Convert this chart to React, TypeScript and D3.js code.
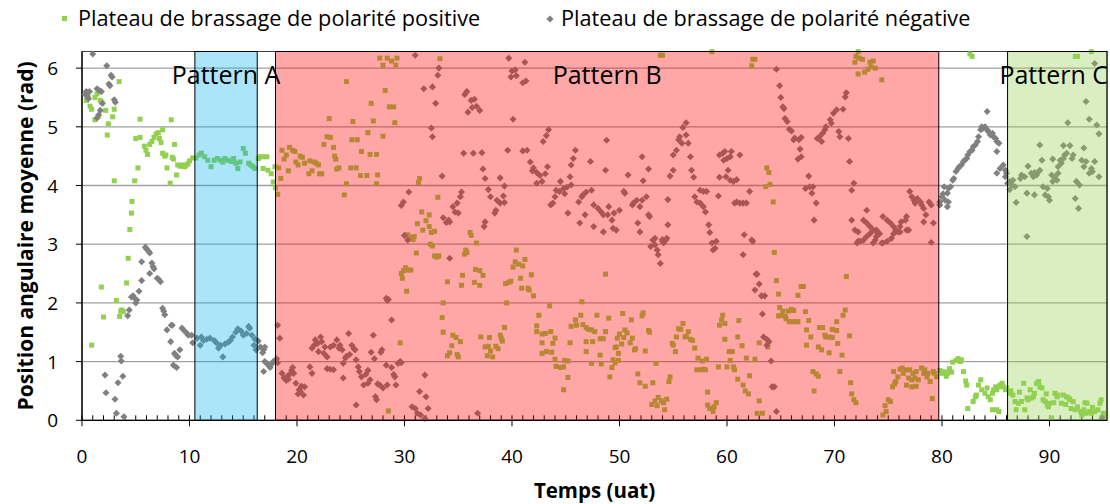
import React from 'react';
import * as d3 from 'd3';

// [temps, position angulaire]
const positivePoints: [number, number][] = [
  [0.4,5.45],[0.55,5.5],[0.75,5.35],[0.9,5.3],[0.9,1.28],[1.2,5.5],[1.2,5.12],[1.4,5.56],[1.5,5.18],[1.7,5.45],[1.8,2.27],[1.85,5.42],[2.0,1.76],[2.2,5.28],[2.35,4.86],[2.45,5.05],[2.85,5.17],[3.0,5.3],[3.0,4.08],[3.2,2.04],[3.45,5.77],[3.5,1.77],[3.6,1.86],[3.7,1.88],[3.85,1.85],[4.15,2.34],[4.3,2.76],[4.45,3.25],[4.6,3.53],[4.65,3.73],[4.9,4.08],[5.0,4.8],[5.2,4.3],[5.4,4.82],[5.4,5.13],[5.8,4.67],[5.95,4.6],[6.1,4.53],[6.3,4.7],[6.5,4.75],[6.7,4.82],[6.9,4.88],[7.1,4.9],[7.2,4.8],[7.35,4.73],[7.5,4.95],[7.5,4.55],[7.7,4.5],[7.8,4.52],[7.9,4.3],[8.2,4.04],[8.3,5.12],[8.4,4.48],[8.5,4.45],[8.6,4.7],[8.8,4.18],[8.9,4.35],[9.1,4.33],[9.25,4.35],[9.4,4.33],[9.55,4.32],[9.7,4.35],[9.85,4.37],[10.0,4.42],[10.3,4.47],[10.6,4.47],
  [10.9,4.52],[11.1,4.55],[11.4,4.49],[11.7,4.43],[12.0,4.32],[12.3,4.43],[12.6,4.46],[12.9,4.43],[13.1,4.4],[13.3,4.46],[13.6,4.43],[13.9,4.41],[14.1,4.46],[14.3,4.38],[14.5,4.29],[14.7,4.4],[15.0,4.63],[15.2,4.55],[15.5,4.38],[15.7,4.35],[15.9,4.32],[16.1,4.29],[16.4,4.46],[16.55,4.49],[16.85,4.49],[17.2,4.49],[16.85,4.29],[17.3,4.26],[17.6,4.2],[17.8,4.06],[17.95,4.32],
  [18.0,3.96],[18.2,3.85],[18.3,4.3],[18.5,4.12],[18.6,4.6],[18.8,4.45],[19.0,4.52],[19.2,4.25],[19.3,4.65],[19.6,4.6],[19.8,4.58],[19.9,4.4],[20.1,4.35],[20.3,4.5],[20.5,4.48],[20.7,4.38],[21.1,4.2],[21.2,4.42],[21.4,4.25],[21.6,4.4],[21.8,4.38],[22.0,4.35],[22.1,4.2],[22.3,4.2],[22.5,4.7],[22.8,4.83],[23.0,5.14],[23.1,4.82],[23.4,4.65],[23.5,4.5],[23.6,4.45],[23.7,4.28],[23.9,4.3],[24.4,3.84],[24.6,5.77],[24.6,4.03],[25.0,4.3],[25.1,4.78],[25.2,5.09],[25.5,4.3],[25.6,4.78],[25.9,4.17],[26.0,4.58],[26.5,4.17],[26.6,4.9],[26.8,4.53],[26.9,5.4],[27.1,5.1],[27.4,4.53],[27.4,4.03],[27.5,4.18],[27.7,6.17],[28.0,4.84],[28.0,6.05],[28.2,5.62],[28.4,6.17],[28.5,0.16],[28.6,5.34],[28.8,6.12],[29.0,5.34],[29.1,5.07],[29.2,6.05],[29.3,6.17],[29.6,1.32],[29.7,2.5],[29.8,2.42],[29.9,2.55],[30.1,2.6],[30.2,2.2],[30.3,2.56],[30.3,3.16],[30.6,3.12],[30.6,2.56],[30.8,3.08],[30.9,3.13],[31.1,2.85],[31.2,3.35],[31.3,4.05],[31.4,4.12],[31.6,3.55],[31.7,3.24],[32.0,3.4],[32.3,3.5],[32.3,3.3],[32.4,3.0],[32.5,3.2],[32.6,2.97],[32.8,3.22],[32.8,2.8],[33.0,2.78],[33.1,3.8],[33.2,2.8],[33.3,6.16],[33.5,1.75],[33.6,2.0],[33.6,1.5],[34.0,2.36],[34.0,1.1],[34.2,1.15],[34.4,1.27],[34.5,1.45],[34.8,1.41],[34.9,1.12],[35.0,1.08],[35.2,1.34],[35.3,2.3],[35.4,2.47],[35.6,2.83],[35.7,2.9],[35.8,2.86],[36.1,3.2],[36.2,3.15],[36.5,2.35],[36.6,2.57],[36.7,3.02],[37.0,2.55],[37.0,2.3],[37.1,1.42],[37.3,2.47],[37.5,1.25],[37.7,1.1],[37.8,1.26],[37.9,1.41],[38.0,1.18],[38.2,1.08],[38.5,1.26],[38.7,1.22],[38.9,1.45],[39.0,1.4],[39.1,1.35],[39.3,1.58],[39.4,2.33],[39.5,2.0],[39.7,2.35],[39.9,2.37],[40.1,2.61],[40.3,2.7],[40.4,2.9],[40.6,2.66],[40.8,2.42],[40.9,2.25],[41.0,2.63],[41.2,2.74],[41.5,2.25],[41.6,2.22],[41.8,2.48],[42.0,2.12],
  [42.3,1.61],[42.3,1.51],[42.5,1.79],[42.8,1.47],[42.8,1.32],[42.8,1.14],[43.1,1.48],[43.2,1.17],[43.5,1.95],[43.6,1.51],[43.7,1.16],[43.8,1.31],[44.0,1.4],[44.0,1.04],[44.1,0.92],[44.5,0.9],[44.8,0.91],[44.8,0.52],[44.9,1.02],[45.2,1.01],[45.2,0.73],[45.4,1.32],[45.5,1.6],[45.9,1.71],[46.0,1.62],[46.4,1.79],[46.5,2.02],[46.6,1.63],[46.9,1.58],[46.9,1.34],[46.9,1.17],[47.1,1.55],[47.4,1.54],[47.4,0.97],[47.5,1.34],[47.7,1.51],[47.9,1.79],[48.2,1.39],[48.2,1.11],[48.3,0.96],[48.5,1.39],[48.7,1.51],[48.7,2.49],[49.0,1.74],[49.1,0.74],[49.3,0.9],[49.4,1.03],[49.6,1.24],[49.6,0.98],[49.7,1.25],[49.8,1.4],[49.9,1.14],[49.9,1.02],[50.0,1.47],[50.2,1.3],[50.3,1.82],[50.4,1.41],[50.5,1.54],[50.7,1.49],[51.0,1.32],[51.1,1.71],[51.2,1.4],[51.4,1.2],[51.5,1.22],[51.7,0.79],[51.9,0.64],[52.1,1.78],[52.2,1.83],[52.4,1.18],[52.4,0.58],[52.7,1.53],[52.8,1.5],[53.0,0.27],[53.1,0.64],[53.3,0.33],[53.4,0.97],[53.5,0.25],[53.6,0.39],[53.8,6.22],[53.9,0.33],[54.0,6.22],[54.1,0.3],[54.2,0.18],[54.4,0.36],[54.6,0.66],[54.7,0.74],[54.9,1.31],[55.0,1.28],[55.2,1.17],[55.3,1.42],[55.5,1.56],[55.7,1.55],[55.9,1.65],[56.1,1.42],[56.2,1.43],[56.4,1.51],[56.6,1.38],[56.8,1.36],[57.0,1.23],[57.2,0.86],[57.3,1.06],[57.5,0.86],[57.7,1.01],[57.8,0.87],[58.0,0.86],[58.1,1.04],[58.2,0.48],[58.2,0.26],[58.4,0.2],[58.6,6.28],[58.7,0.15],[58.8,0.23],[59.0,0.3],[59.2,0.91],[59.3,1.62],[59.5,1.71],[59.6,1.79],[59.8,1.65],[59.8,1.38],[60.0,0.91],[60.2,1.17],[60.3,1.02],[60.5,1.17],[60.6,0.91],[60.7,0.86],[61.0,0.7],[61.0,1.42],[61.1,1.7],[61.4,1.27],[61.5,0.6],[61.7,0.5],[61.8,1.06],[62.0,0.45],[62.1,0.76],[62.3,6.04],[62.4,6.15],[62.6,6.15],[62.6,1.04],[62.8,0.12],[63.0,0.33],[63.0,1.32],[63.3,0.12],[63.6,3.98],[63.7,4.3],[63.8,1.25],[63.9,4.22],[64.0,4.02],[64.3,3.72],[64.4,2.86],[64.6,2.38],[64.8,2.15],[64.8,1.78],[64.9,1.92],[65.1,1.79],[65.2,1.86],[65.4,1.77],[65.5,1.73],[65.7,1.86],[65.8,1.68],[66.0,1.89],[66.1,1.68],[66.2,1.87],[66.4,1.68],[66.6,1.68],[66.6,2.13],[66.9,2.28],[67.1,2.28],[67.3,1.85],[67.4,1.54],[67.4,1.28],[67.6,1.7],[67.8,1.42],[68.0,0.83],[68.1,0.5],[68.3,0.79],[68.5,0.75],[68.5,1.25],[68.6,1.58],[68.8,1.2],[68.9,1.58],[69.1,1.45],[69.2,1.42],[69.5,1.42],[69.5,1.15],[69.8,1.41],[69.8,1.55],[70.2,1.53],[70.2,1.68],[70.3,1.31],[70.5,0.83],[70.7,1.11],[70.8,1.79],[71.0,1.88],[71.1,2.45],[71.4,1.44],[71.5,0.64],[71.6,0.45],[71.8,0.35],[71.9,6.1],[72.0,0.3],[72.0,6.2],[72.2,6.28],[72.2,5.9],[72.3,6.17],[72.6,6.15],[72.8,5.93],[73.1,5.98],[73.3,6.1],[73.4,6.02],[73.6,6.12],[73.8,6.0],[74.4,5.8],[74.5,0.09],[74.7,0.25],[74.8,0.15],[75.0,0.35],[75.2,0.32],[75.4,0.57],[75.5,0.83],[75.6,0.62],[75.7,0.66],[75.9,0.74],[76.1,0.87],[76.3,0.89],[76.4,0.8],[76.7,0.86],[76.7,0.6],[76.9,0.72],[77.0,0.86],[77.2,0.69],[77.2,0.57],[77.3,0.8],[77.5,0.72],[77.6,0.58],[77.6,0.83],[77.8,0.69],[78.1,0.89],[78.3,0.8],[78.4,0.86],[78.6,0.74],[78.7,0.8],[78.9,0.66],[79.1,0.37],[79.2,0.83],[79.3,0.8],[79.5,0.74],
  [79.8,0.85],[80.0,0.8],[80.2,0.83],[80.4,0.75],[80.5,0.8],[80.7,0.88],[80.9,0.82],[81.0,0.99],[81.3,1.02],[81.5,1.05],[81.7,1.0],[81.8,1.03],[82.0,0.83],[82.2,0.67],[82.3,0.6],[82.4,0.2],[82.6,6.24],[82.8,6.2],[82.9,0.32],[83.1,0.4],[83.2,0.43],[83.4,0.6],[83.6,0.69],[83.7,0.52],[84.0,0.46],[84.2,0.55],[84.3,0.4],[84.5,0.35],[84.7,0.46],[84.7,0.18],[84.8,0.52],[85.0,0.57],[85.1,0.52],[85.1,0.18],[85.3,0.57],[85.3,0.15],[85.4,0.6],[85.6,0.63],[85.7,0.57],[85.9,0.52],
  [86.0,0.55],[86.3,0.46],[86.4,0.5],[86.6,0.43],[86.8,0.32],[86.9,0.18],[87.1,0.29],[87.2,0.48],[87.4,0.32],[87.6,0.63],[87.7,0.18],[87.9,0.38],[88.0,0.35],[88.2,0.52],[88.3,0.38],[88.5,0.4],[88.6,0.46],[88.8,0.63],[89.0,0.66],[89.1,0.57],[89.3,0.55],[89.4,0.35],[89.6,0.32],[89.7,0.45],[89.8,0.26],[89.9,0.23],[90.0,0.29],[90.2,0.04],[90.4,0.3],[90.5,0.46],[90.7,0.4],[90.8,0.43],[91.1,0.29],[91.3,0.43],[91.5,0.27],[91.6,0.4],[91.8,0.38],[91.9,0.35],[92.0,0.2],[92.2,0.32],[92.4,0.18],[92.4,6.2],[92.6,0.23],[92.6,6.2],[92.9,0.15],[93.0,0.09],[93.2,0.18],[93.3,0.3],[93.4,0.12],[93.5,0.29],[93.7,0.15],[93.9,0.12],[93.9,6.28],[94.0,0.22],[94.2,0.15],[94.5,0.18],[94.7,0.29],[94.8,0.35],[94.9,0.05],[95.0,0.12],[95.1,0.09],
];

const negativePoints: [number, number][] = [
  [0.3,5.55],[0.4,5.6],[0.5,5.52],[0.6,5.48],[0.7,5.6],[1.0,6.24],[1.4,5.65],[1.4,5.15],[1.55,5.2],[1.6,5.62],[1.7,5.28],[1.8,5.6],[1.9,5.4],[2.14,0.77],[2.23,0.47],[2.3,6.04],[2.5,5.73],[2.6,5.7],[2.7,5.88],[2.8,5.85],[3.0,5.46],[3.07,0.36],[3.1,5.42],[3.2,0.12],[3.35,0.64],[3.6,1.09],[3.65,1.01],[3.8,0.75],[3.9,0.06],[4.25,1.78],[4.4,1.88],[4.6,2.1],[4.75,2.12],[4.9,2.08],[5.0,2.0],[5.1,2.05],[5.3,2.2],[5.55,2.38],[5.55,2.7],[5.9,2.95],[6.0,2.92],[6.2,2.88],[6.3,2.85],[6.3,2.5],[6.5,2.68],[6.6,2.62],[6.7,2.58],[7.0,2.42],[7.15,2.4],[7.3,2.36],[7.5,1.91],[7.6,1.86],[7.7,1.8],[7.9,1.54],[8.25,1.34],[8.3,1.62],[8.4,1.62],[8.5,0.94],[8.6,1.14],[8.75,1.1],[8.8,0.9],[8.9,1.08],[9.1,1.2],[9.3,1.57],[9.5,1.53],[9.7,1.49],[9.9,1.45],[10.2,1.45],[10.3,1.32],
  [10.7,1.4],[11.0,1.28],[11.1,1.42],[11.3,1.36],[11.6,1.38],[11.9,1.4],[12.3,1.36],[12.5,1.32],[12.7,1.23],[12.9,1.28],[13.1,1.08],[13.3,1.3],[13.6,1.33],[13.8,1.36],[14.0,1.42],[14.3,1.5],[14.5,1.56],[14.8,1.52],[15.0,1.45],[15.3,1.48],[15.5,1.6],[15.6,1.57],[15.8,1.45],[16.0,1.28],[16.1,1.38],[16.2,1.2],
  [16.4,1.35],[16.6,1.25],[16.8,1.15],[16.9,1.2],[16.9,0.83],[17.0,1.25],[17.0,1.0],[17.2,0.97],[17.4,0.93],[17.5,0.9],[17.6,0.95],[17.8,1.0],
  [18.1,1.05],[18.2,1.62],[18.2,0.98],[18.4,1.4],[18.6,0.8],[18.8,0.72],[19.0,0.68],[19.1,0.75],[19.2,0.7],[19.3,0.78],[19.5,0.85],[19.6,0.9],[19.7,0.8],[19.9,0.63],[20.1,0.45],[20.2,0.52],[20.3,0.49],[20.4,0.58],[20.6,0.43],[20.7,0.57],[21.2,0.91],[21.4,0.8],[21.4,1.23],[21.6,1.28],[21.7,1.37],[21.9,1.31],[22.0,1.17],[22.2,1.42],[22.3,1.34],[22.5,1.14],[22.6,1.25],[22.8,1.08],[22.8,0.88],[23.1,0.87],[23.1,1.25],[23.4,0.86],[23.4,1.28],[23.7,1.37],[23.9,1.23],[24.0,1.28],[24.2,1.2],[24.3,0.97],[24.3,0.72],[24.5,1.06],[24.6,1.09],[24.8,1.48],[24.9,1.12],[25.1,1.28],[25.3,1.22],[25.4,1.2],[25.5,1.03],[25.5,0.26],[25.7,0.91],[25.8,0.83],[26.0,0.74],[26.2,0.6],[26.4,0.78],[26.6,0.85],[26.6,0.63],[26.8,0.69],[26.9,1.16],[27.1,1.45],[27.2,1.05],[27.3,0.4],[27.4,0.35],[27.5,0.62],[27.7,0.6],[27.8,1.16],[27.9,1.2],[28.0,0.55],[28.3,0.94],[28.3,2.08],[28.4,0.6],[28.4,2.04],[28.5,2.06],[28.8,1.71],[28.8,0.9],[29.0,0.78],[29.1,0.74],[29.2,0.6],[29.4,0.97],[29.6,1.0],[29.7,0.98],[29.7,3.66],[29.9,3.72],[30.0,3.15],[30.3,3.07],[30.4,3.89],[30.7,0.23],[31.0,6.22],[31.0,0.2],[31.2,0.12],[31.4,0.49],[31.5,0.09],[31.8,5.65],[31.9,0.77],[31.9,0.03],[32.0,0.4],[32.2,0.2],[32.5,4.98],[32.6,5.68],[32.6,4.83],[32.9,5.4],[33.1,5.88],[33.2,6.0],[33.5,4.16],[33.6,3.45],[33.9,3.37],[34.1,3.41],[34.2,3.38],[34.2,2.76],[34.5,3.64],[34.7,3.55],[34.9,3.7],[35.0,3.53],[35.2,3.81],[35.3,3.89],[35.5,4.55],[35.6,5.55],[35.8,5.6],[35.9,5.25],[36.2,5.45],[36.3,5.33],[36.4,4.55],[36.5,5.47],[36.7,5.35],[36.8,0.12],[37.0,5.28],[37.2,4.56],[37.3,4.28],[37.4,3.3],[37.5,4.12],[37.5,3.38],[37.8,3.93],[38.0,3.81],[38.4,3.53],[38.5,3.58],[38.6,3.75],[38.9,3.7],[38.9,4.13],[39.2,3.82],[39.3,3.71],[39.3,3.99],[39.6,4.6],[39.7,6.17],[39.9,5.85],[40.0,5.95],[40.1,5.13],[40.3,5.97],[40.4,5.87],[41.0,5.75],[41.0,4.59],[41.2,6.1],[41.3,5.78],[41.4,4.6],[41.7,4.4],[41.9,4.25],[42.0,4.3],[42.3,4.22],[42.3,4.04],[42.6,4.17],[42.8,4.07],[42.9,4.75],[43.1,4.2],[43.2,4.85],[43.3,4.32],[43.4,4.95],[43.6,3.67],[43.8,3.7],[44.0,3.81],[44.1,3.92],[44.4,3.9],[44.5,4.07],[44.8,3.95],[44.9,3.86],[45.1,3.97],[45.2,3.53],[45.4,4.15],[45.5,4.01],[45.5,4.35],[45.7,4.46],[45.9,4.6],[46.2,3.72],[46.3,3.36],[46.5,3.81],[46.6,3.84],[46.8,3.5],[46.9,3.89],[47.3,4.41],[47.4,3.92],[47.6,3.67],[47.6,3.3],[48.0,3.61],[48.3,3.55],[48.5,3.5],[48.5,3.21],[48.7,4.26],[48.8,4.77],[48.9,3.5],[49.0,3.64],[49.3,3.41],[49.4,3.27],[49.5,3.53],[49.7,3.24],[50.0,3.58],[50.4,3.9],[50.5,3.87],[50.8,4.18],[51.2,3.67],[51.3,3.7],[51.6,3.75],[51.7,3.36],[51.9,3.21],[51.9,3.64],
  [52.1,3.75],[52.1,4.49],[52.2,4.08],[52.5,3.81],[52.7,3.5],[52.7,4.28],[52.8,3.47],[52.9,2.96],[53.1,3.07],[53.3,2.99],[53.3,3.1],[53.5,2.9],[53.6,2.82],[53.8,2.67],[54.0,3.05],[54.0,3.08],[54.1,3.02],[54.3,3.07],[54.4,3.1],[54.5,3.76],[54.5,3.33],[54.7,4.16],[55.0,4.26],[55.0,4.52],[55.3,4.6],[55.5,4.78],[55.6,4.83],[55.8,4.72],[55.9,4.99],[56.2,5.07],[56.2,4.86],[56.4,4.72],[56.6,4.49],[56.7,4.26],[56.9,4.14],[57.0,3.81],[57.2,3.72],[57.5,3.92],[57.5,3.7],[57.8,3.9],[57.8,3.64],[58.0,3.55],[58.1,3.9],[58.3,3.33],[58.4,3.2],[58.6,3.02],[58.7,2.9],[58.9,2.93],[59.0,3.05],[59.2,3.82],[59.3,4.52],[59.3,4.14],[59.6,4.55],[59.7,4.43],[59.8,4.58],[59.9,4.15],[60.0,4.46],[60.1,4.26],[60.3,4.49],[60.3,4.09],[60.4,4.58],[60.6,4.07],[60.7,3.7],[60.9,4.1],[60.9,3.72],[61.2,4.52],[61.2,3.7],[61.5,3.7],[61.5,2.82],[61.6,3.16],[61.8,3.7],[62.1,3.9],[62.3,3.07],[62.4,3.05],[62.6,2.22],[62.7,2.49],[62.8,2.49],[63.0,2.32],[63.2,2.12],[63.3,1.81],[63.4,1.42],[63.5,2.12],[63.7,1.38],[63.7,1.28],[63.9,1.34],[64.1,1.01],[64.2,0.57],[64.4,0.57],[64.6,0.15],[64.6,5.98],[64.9,5.7],[65.0,5.5],[65.2,5.34],[65.3,5.31],[65.4,5.14],[65.6,5.09],[65.8,4.96],[66.0,4.93],[66.2,4.78],[66.3,4.81],[66.6,4.45],[66.7,4.78],[66.8,4.62],[66.9,4.82],[66.9,4.49],[67.3,3.95],[67.6,4.16],[67.7,3.98],[67.9,3.87],[68.0,3.98],[68.1,3.41],[68.3,3.7],[68.4,4.8],[68.6,4.83],[68.8,4.75],[68.9,4.89],[69.1,4.95],[69.2,5.0],[69.6,5.12],[69.7,5.06],[69.9,5.23],[70.2,5.29],[70.4,4.92],[70.5,4.83],[70.8,5.3],[71.0,5.51],[71.1,5.58],[71.3,4.8],[71.4,4.41],[71.6,3.92],[71.6,3.41],[71.8,4.04],[71.9,3.24],[72.1,3.02],[72.2,3.21],[72.2,3.05],[72.4,3.05],[72.7,3.41],[72.7,3.07],[73.0,3.58],[73.0,3.36],[73.0,3.13],[73.3,3.3],[73.3,3.18],[73.6,3.24],[73.6,3.02],[73.8,3.07],[73.9,3.24],[73.9,3.13],[74.0,3.19],[74.2,3.18],[74.4,3.02],[74.5,3.47],[74.5,3.02],[74.9,3.41],[74.9,3.05],[75.2,3.36],[75.3,3.1],[75.5,3.3],[75.5,3.18],[75.7,3.24],[75.9,3.21],[76.1,3.3],[76.1,3.21],[76.2,3.38],[76.6,3.41],[76.7,3.47],[76.7,3.24],[76.9,3.24],[77.0,3.9],[77.2,3.81],[77.4,3.75],[77.5,3.7],[77.7,3.78],[78.0,3.72],[78.1,3.67],[78.3,3.61],[78.3,3.38],[78.5,3.5],[78.8,3.72],[79.0,3.67],[79.0,3.03],[79.2,3.36],
  [79.8,3.72],[79.8,3.67],[80.0,3.81],[80.1,3.86],[80.2,3.98],[80.3,3.75],[80.5,3.87],[80.5,3.64],[80.6,3.95],[80.6,3.72],[80.8,3.98],[81.0,4.09],[81.1,4.12],[81.3,4.24],[81.5,4.29],[81.6,4.32],[81.8,4.35],[82.0,4.41],[82.1,4.43],[82.3,4.46],[82.4,4.52],[82.6,4.58],[82.8,4.6],[82.9,4.66],[83.1,4.69],[83.3,4.75],[83.4,4.83],[83.6,4.95],[83.7,5.0],[83.8,4.97],[84.0,5.0],[84.2,4.95],[84.2,5.26],[84.3,4.92],[84.5,4.86],[84.7,4.89],[84.8,4.83],[85.0,4.8],[85.1,4.75],[85.1,4.58],[85.1,4.21],[85.3,4.72],[85.4,4.29],[85.7,4.35],[85.9,4.26],[85.9,4.15],[86.0,4.21],
  [86.1,4.04],[86.3,4.07],[86.3,3.93],[86.5,4.01],[86.6,4.09],[86.8,3.98],[86.9,3.71],[87.3,4.12],[87.4,4.18],[87.7,4.15],[87.9,3.87],[87.9,3.13],[88.0,4.33],[88.3,4.21],[88.5,4.15],[88.6,4.22],[88.6,3.84],[88.8,4.18],[89.0,4.24],[89.1,4.26],[89.1,4.69],[89.3,4.43],[89.4,3.98],[89.6,3.84],[89.8,3.95],[89.9,3.81],[90.0,3.75],[90.2,4.18],[90.3,4.07],[90.3,4.45],[90.5,4.15],[90.7,4.09],[90.8,4.21],[90.8,4.32],[91.0,4.43],[91.1,4.38],[91.3,4.46],[91.3,4.68],[91.4,4.52],[91.6,4.55],[91.7,5.07],[91.9,4.68],[92.1,4.46],[92.2,4.52],[92.4,3.78],[92.5,4.07],[92.7,3.61],[92.8,4.01],[93.0,4.43],[93.2,4.32],[93.2,4.64],[93.4,4.41],[93.4,5.43],[93.7,4.21],[93.7,5.13],[93.9,4.29],[94.0,4.24],[94.2,4.41],[94.2,6.08],[94.4,5.03],[94.6,4.88],[94.6,4.15],[94.9,0.04],
];

const seriesNames = ['Plateau de brassage de polarité positive', 'Plateau de brassage de polarité négative'];
const patternNames = ['Pattern A', 'Pattern B', 'Pattern C'];
const patternStarts = [10.5, 18.0, 86.1];
const patternEnds = [16.3, 79.7, 95.35];
const xTickValues = [0, 10, 20, 30, 40, 50, 60, 70, 80, 90];
const yTickValues = [0, 1, 2, 3, 4, 5, 6];

const FONT = '"Open Sans", "DejaVu Sans", sans-serif';
const GREEN = '#92d050';
const GREY = '#808080';
const bandFills = ['rgba(0,176,240,0.33)', 'rgba(255,0,0,0.35)', 'rgba(146,208,80,0.35)'];

export default function App() {
  const width = 1110;
  const height = 504;
  const margin = { top: 51.5, right: 3, bottom: 83.7, left: 82 };
  const x0 = margin.left;
  const x1 = width - margin.right;
  const y0 = height - margin.bottom;
  const y1 = margin.top;

  const x = d3.scaleLinear().domain([0, 95.35]).range([x0, x1]);
  const y = d3.scaleLinear().domain([0, 2 * Math.PI]).range([y0, y1]);
  const diamond = d3.symbol().type(d3.symbolSquare).size(25)() || '';
  const minorTicks = d3.range(0, 96, 1);

  // le dernier libellé est calé sur le bord droit pour rester lisible
  const labelX = (i: number) =>
    i === patternNames.length - 1 ? width - 2 : (x(patternStarts[i]) + x(patternEnds[i])) / 2;

  return (
    <svg
      width={width}
      height={height}
      style={{ position: 'absolute', left: 0, top: 0, background: '#fff' }}
      fontFamily={FONT}
    >
      {/* légende */}
      <rect x={62} y={16} width={5} height={5} fill={GREEN} />
      <text x={78} y={26} fontSize={21.7} fill="#000">{seriesNames[0]}</text>
      <path d={diamond} transform="translate(550,19) rotate(45)" fill={GREY} />
      <text x={561} y={26} fontSize={21.7} fill="#000">{seriesNames[1]}</text>

      {/* grille */}
      {yTickValues.filter(v => v > 0).map(v => (
        <line key={'g' + v} x1={x0} x2={x1} y1={y(v)} y2={y(v)} stroke="#a0a0a0" strokeWidth={1.3} />
      ))}
      <rect x={x0} y={y1} width={x1 - x0} height={y0 - y1} fill="none" stroke="#404040" strokeWidth={1} />

      {/* axes */}
      <line x1={x0} x2={x1} y1={y0} y2={y0} stroke="#000" strokeWidth={1.3} />
      <line x1={x0} x2={x0} y1={y1} y2={y0} stroke="#000" strokeWidth={1.3} />
      {minorTicks.map(t => (
        <line key={'m' + t} x1={x(t)} x2={x(t)} y1={y0 - 5} y2={y0} stroke="#000" strokeWidth={1} />
      ))}
      {xTickValues.map(t => (
        <g key={'x' + t}>
          <line x1={x(t)} x2={x(t)} y1={y0} y2={y0 + 6} stroke="#000" strokeWidth={1} />
          <text x={x(t)} y={y0 + 43} fontSize={19} textAnchor="middle" fill="#000">{t}</text>
        </g>
      ))}
      {yTickValues.map(v => (
        <g key={'y' + v}>
          <line x1={x0 - 6} x2={x0} y1={y(v)} y2={y(v)} stroke="#000" strokeWidth={1} />
          <text x={x0 - 24} y={y(v) + 7} fontSize={19} textAnchor="end" fill="#000">{v}</text>
        </g>
      ))}

      {/* séries */}
      {positivePoints.map((p, i) => (
        <rect key={'p' + i} x={x(p[0]) - 2.5} y={y(p[1]) - 2.5} width={5} height={5} fill={GREEN} />
      ))}
      {negativePoints.map((p, i) => (
        <path key={'n' + i} d={diamond} transform={`translate(${x(p[0])},${y(p[1])}) rotate(45)`} fill={GREY} />
      ))}

      {/* zones des patterns */}
      {patternNames.map((name, i) => (
        <rect
          key={'b' + name}
          x={x(patternStarts[i])}
          y={y1}
          width={x(patternEnds[i]) - x(patternStarts[i])}
          height={y0 - y1}
          fill={bandFills[i]}
          stroke="#000"
          strokeWidth={1}
        />
      ))}
      {patternNames.map((name, i) => (
        <text
          key={'t' + name}
          x={labelX(i)}
          y={y(5.73)}
          fontSize={25}
          textAnchor={i === patternNames.length - 1 ? 'end' : 'middle'}
          fill="#000"
        >
          {name}
        </text>
      ))}

      {/* titres des axes */}
      <text x={(x0 + x1) / 2} y={498} fontSize={20.5} fontWeight="bold" textAnchor="middle" fill="#000">
        Temps (uat)
      </text>
      <text
        transform={`translate(26,${(y0 + y1) / 2}) rotate(-90)`}
        fontSize={21}
        fontWeight="bold"
        textAnchor="middle"
        dy="0.35em"
        fill="#000"
      >
        Position angulaire moyenne (rad)
      </text>
    </svg>
  );
}
